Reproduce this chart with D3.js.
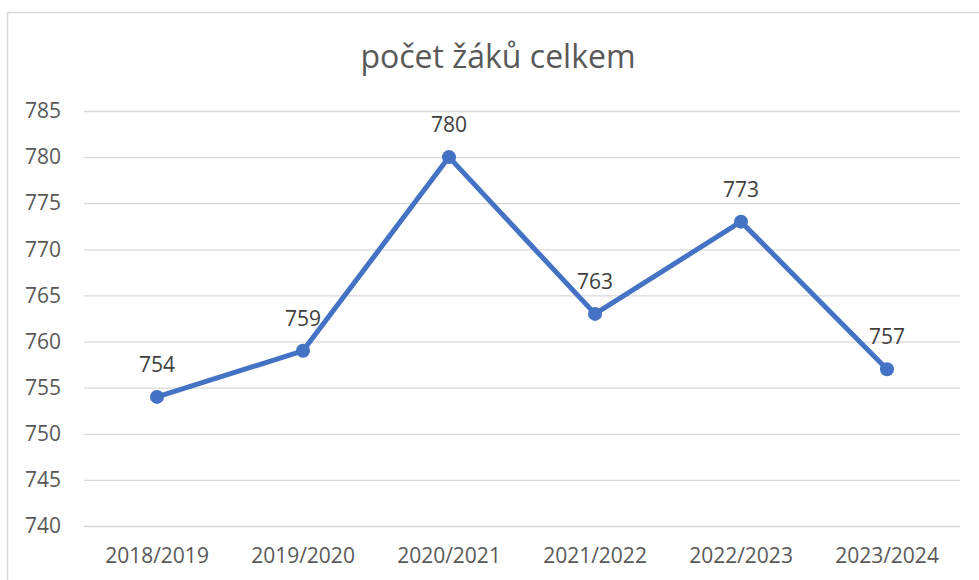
<!DOCTYPE html>
<html>
<head>
<meta charset="utf-8">
<script src="https://cdn.jsdelivr.net/npm/d3@7"></script>
<style>
  body { margin: 0; background: #fff; }
  svg { display: block; font-family: "Open Sans", sans-serif; }
</style>
</head>
<body>
<svg width="979" height="580"></svg>
<script>
var roky = ["2018/2019", "2019/2020", "2020/2021", "2021/2022", "2022/2023", "2023/2024"];
var zaci = [754, 759, 780, 763, 773, 757];
var yTicks = [740, 745, 750, 755, 760, 765, 770, 775, 780, 785];

var svg = d3.select("svg");

// ram grafu
svg.append("path")
    .attr("d", "M7.5,580V12.5H979")
    .attr("fill", "none")
    .attr("stroke", "#d9d9d9")
    .attr("stroke-width", 1.5);

var margin = {top: 111, right: 19, bottom: 54, left: 84},
    width = 979 - margin.left - margin.right,
    height = 580 - margin.top - margin.bottom,
    g = svg.append("g").attr("transform", "translate(" + margin.left + "," + margin.top + ")");

var x = d3.scaleBand().domain(roky).range([0, width]);
var y = d3.scaleLinear().domain([740, 785]).range([height, 0]);

svg.append("text")
    .attr("x", 498)
    .attr("y", 68)
    .attr("text-anchor", "middle")
    .attr("fill", "#595959")
    .style("font-size", "32px")
    .text("počet žáků celkem");

// mrizka + popisky osy y
var yAxis = g.append("g")
    .call(d3.axisLeft(y).tickValues(yTicks).tickSize(-width).tickPadding(23));
yAxis.attr("font-family", null).attr("font-size", null);
yAxis.select(".domain").remove();
yAxis.selectAll("line").attr("stroke", "#d9d9d9").attr("stroke-width", 1.3);
yAxis.selectAll("text").attr("fill", "#595959").style("font-size", "21px");

var xAxis = g.append("g")
    .attr("transform", "translate(0," + height + ")")
    .call(d3.axisBottom(x).tickSize(0).tickPadding(22));
xAxis.attr("font-family", null).attr("font-size", null);
xAxis.select(".domain").remove();
xAxis.selectAll("text").attr("fill", "#595959").style("font-size", "21px");

var data = roky.map(function(r, i) { return {rok: r, pocet: zaci[i]}; });

var line = d3.line()
    .x(function(d) { return x(d.rok) + x.bandwidth() / 2; })
    .y(function(d) { return y(d.pocet); });

g.append("path")
    .datum(data)
    .attr("d", line)
    .attr("fill", "none")
    .attr("stroke", "#4472c4")
    .attr("stroke-width", 5)
    .attr("stroke-linejoin", "round");

g.selectAll(".bod")
    .data(data)
    .enter().append("circle")
      .attr("class", "bod")
      .attr("cx", function(d) { return x(d.rok) + x.bandwidth() / 2; })
      .attr("cy", function(d) { return y(d.pocet); })
      .attr("r", 7)
      .attr("fill", "#4472c4");

g.selectAll(".popisek")
    .data(data)
    .enter().append("text")
      .attr("class", "popisek")
      .attr("x", function(d) { return x(d.rok) + x.bandwidth() / 2; })
      .attr("y", function(d) { return y(d.pocet) - 25; })
      .attr("text-anchor", "middle")
      .attr("fill", "#404040")
      .style("font-size", "21px")
      .text(function(d) { return d.pocet; });
</script>
</body>
</html>
